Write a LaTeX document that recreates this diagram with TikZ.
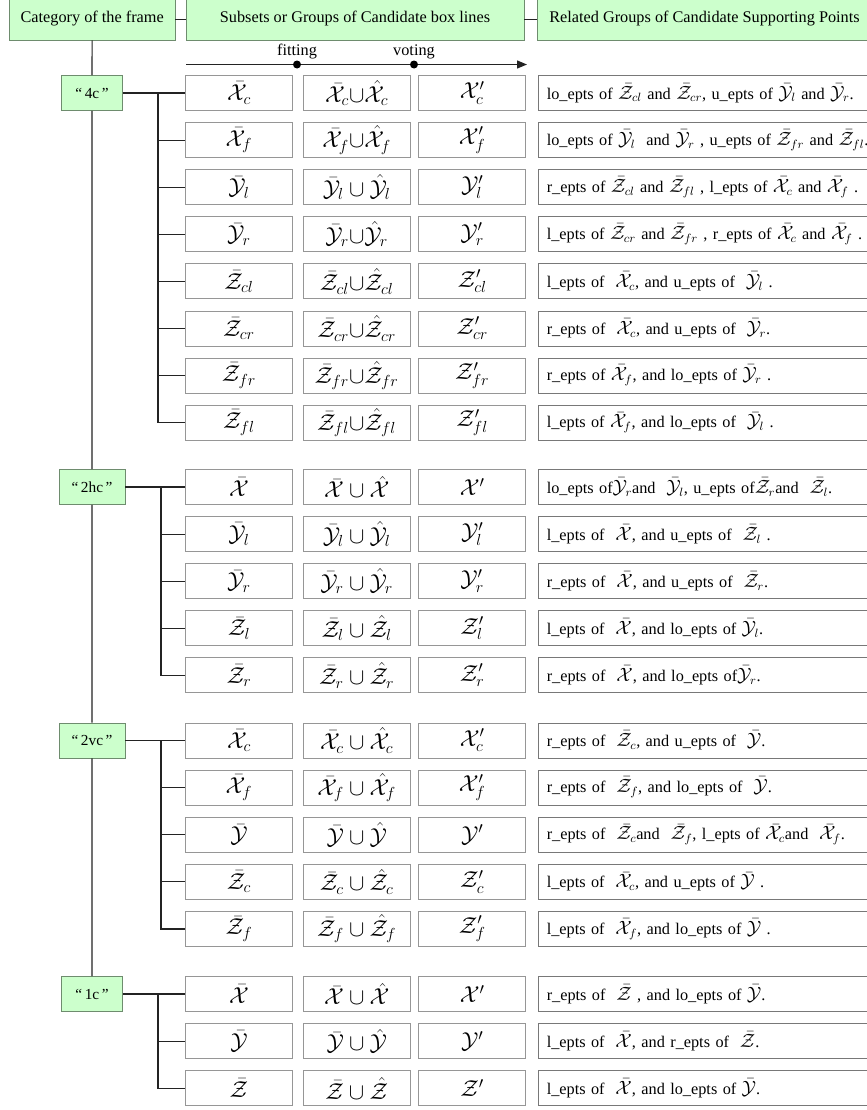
\documentclass[tikz,border=0pt]{standalone}
\usepackage{fontspec}
\setmainfont{Liberation Serif}
\usetikzlibrary{arrows.meta,positioning}
\definecolor{hdrfill}{RGB}{204,255,204}
\definecolor{hdrline}{RGB}{110,140,110}
\definecolor{cellline}{RGB}{150,150,150}
\definecolor{relline}{RGB}{120,120,120}
\definecolor{treeline}{RGB}{35,35,35}
\DeclareMathSizes{12.2}{13.5}{9.5}{7}
\newcommand{\bX}{\bar{\mathcal{X}}}
\newcommand{\hX}{\hat{\mathcal{X}}}
\newcommand{\cX}{\mathcal{X}}
\newcommand{\bY}{\bar{\mathcal{Y}}}
\newcommand{\hY}{\hat{\mathcal{Y}}}
\newcommand{\cY}{\mathcal{Y}}
\newcommand{\bZ}{\bar{\mathcal{Z}}}
\newcommand{\hZ}{\hat{\mathcal{Z}}}
\newcommand{\cZ}{\mathcal{Z}}
\begin{document}
\begin{tikzpicture}[x=0.75pt,y=-0.75pt,
  hdr/.style={draw=hdrline, fill=hdrfill, line width=0.6pt, minimum height=31.5pt, inner sep=0pt, font=\fontsize{12.2}{14}\selectfont},
  grp/.style={draw=hdrline, fill=hdrfill, line width=0.6pt, minimum height=26.25pt, inner sep=0pt, font=\fontsize{11.5}{13}\selectfont},
  cell/.style={draw=cellline, line width=0.7pt, minimum width=79.9pt, minimum height=26.25pt, inner sep=0pt, font=\fontsize{17.5}{18}\selectfont},
  rel/.style={draw=relline, line width=0.7pt, anchor=west, minimum height=26.25pt, text width=245pt, inner xsep=6pt, inner ysep=0pt, align=left, font=\fontsize{12.2}{14}\selectfont},
  tree/.style={draw=treeline, line width=0.9pt},
  dot/.style={circle, fill=black, inner sep=0pt, minimum size=6pt},
  lbl/.style={inner sep=1pt, font=\fontsize{12.2}{14}\selectfont}]
\useasboundingbox (0,0) rectangle (867,1110);
\clip (0,0) rectangle (867,1110);
% headers
\node[hdr, minimum width=124.3pt] (cat) at (92.2,19) {Category of the frame};
\node[hdr, minimum width=253.5pt] (sub) at (355,19) {Subsets or Groups of Candidate box lines};
\node[hdr, minimum width=251pt] (rel) at (704.5,19) {Related Groups of Candidate Supporting Points};
\draw[tree, line width=0.6pt] (cat) -- (sub);
\draw[tree, line width=0.6pt] (sub) -- (rel);
% fitting / voting
\coordinate (arS) at (186,64.5);
\coordinate (arE) at (527,64.5);
\draw[tree, -{Triangle[length=7.5pt,width=6pt]}] (arS) -- (arE);
\node[dot] (fit) at (297,64.5) {};
\node[dot] (vot) at (414,64.5) {};
\node[lbl, above=0pt of fit] (fitlbl) {fitting};
\node[lbl, above=0pt of vot] (votlbl) {voting};
% "4c"
\begin{scope}[shift={(0,93)}]
\node[grp, minimum width=45.75pt] (c4) at (92,0) {“\,4c\,”};
\coordinate (c4j) at (158,0);
\node[cell] (c4a1) at (239,0) {$\bX_c$};
\node[cell] (c4b1) at (356.7,0) {$\bX_c{\cup}\hX_c$};
\node[cell] (c4c1) at (472.2,0) {$\cX'_c$};
\node[rel] (c4d1) at (538.3,0) {lo\_epts of $\bZ_{cl}$ and $\bZ_{cr}$, u\_epts of $\bY_l$ and $\bY_r$.};
\node[cell] (c4a2) at (239,47.1) {$\bX_f$};
\node[cell] (c4b2) at (356.7,47.1) {$\bX_f{\cup}\hX_f$};
\node[cell] (c4c2) at (472.2,47.1) {$\cX'_f$};
\node[rel] (c4d2) at (538.3,47.1) {lo\_epts of $\bY_l$ \ and $\bY_r$ , u\_epts of $\bZ_{fr}$ and $\bZ_{fl}$.};
\node[cell] (c4a3) at (239,94.2) {$\bY_l$};
\node[cell] (c4b3) at (356.7,94.2) {$\bY_l\cup\hY_l$};
\node[cell] (c4c3) at (472.2,94.2) {$\cY'_l$};
\node[rel] (c4d3) at (538.3,94.2) {r\_epts of $\bZ_{cl}$ and $\bZ_{fl}$ , l\_epts of $\bX_c$ and $\bX_f$ .};
\node[cell] (c4a4) at (239,141.3) {$\bY_r$};
\node[cell] (c4b4) at (356.7,141.3) {$\bY_r{\cup}\hY_r$};
\node[cell] (c4c4) at (472.2,141.3) {$\cY'_r$};
\node[rel] (c4d4) at (538.3,141.3) {l\_epts of $\bZ_{cr}$ and $\bZ_{fr}$ , r\_epts of $\bX_c$ and $\bX_f$ .};
\node[cell] (c4a5) at (239,188.4) {$\bZ_{cl}$};
\node[cell] (c4b5) at (356.7,188.4) {$\bZ_{cl}{\cup}\hZ_{cl}$};
\node[cell] (c4c5) at (472.2,188.4) {$\cZ'_{cl}$};
\node[rel] (c4d5) at (538.3,188.4) {l\_epts of \ $\bX_c$, and u\_epts of \ $\bY_l$ .};
\node[cell] (c4a6) at (239,235.5) {$\bZ_{cr}$};
\node[cell] (c4b6) at (356.7,235.5) {$\bZ_{cr}{\cup}\hZ_{cr}$};
\node[cell] (c4c6) at (472.2,235.5) {$\cZ'_{cr}$};
\node[rel] (c4d6) at (538.3,235.5) {r\_epts of \ $\bX_c$, and u\_epts of \ $\bY_r$.};
\node[cell] (c4a7) at (239,282.6) {$\bZ_{fr}$};
\node[cell] (c4b7) at (356.7,282.6) {$\bZ_{fr}{\cup}\hZ_{fr}$};
\node[cell] (c4c7) at (472.2,282.6) {$\cZ'_{fr}$};
\node[rel] (c4d7) at (538.3,282.6) {r\_epts of $\bX_f$, and lo\_epts of $\bY_r$ .};
\node[cell] (c4a8) at (239,329.7) {$\bZ_{fl}$};
\node[cell] (c4b8) at (356.7,329.7) {$\bZ_{fl}{\cup}\hZ_{fl}$};
\node[cell] (c4c8) at (472.2,329.7) {$\cZ'_{fl}$};
\node[rel] (c4d8) at (538.3,329.7) {l\_epts of $\bX_f$, and lo\_epts of \ $\bY_l$ .};
\end{scope}
% "2hc"
\begin{scope}[shift={(0,487)}]
\node[grp, minimum width=49.5pt] (h2) at (92,0) {“\,2hc\,”};
\coordinate (h2j) at (161,0);
\node[cell] (h2a1) at (239,0) {$\bX$};
\node[cell] (h2b1) at (356.7,0) {$\bX\cup\hX$};
\node[cell] (h2c1) at (472.2,0) {$\cX'$};
\node[rel] (h2d1) at (538.3,0) {lo\_epts of$\bY_r$and \ $\bY_l$, u\_epts of$\bZ_r$and \ $\bZ_l$.};
\node[cell] (h2a2) at (239,47.1) {$\bY_l$};
\node[cell] (h2b2) at (356.7,47.1) {$\bY_l\cup\hY_l$};
\node[cell] (h2c2) at (472.2,47.1) {$\cY'_l$};
\node[rel] (h2d2) at (538.3,47.1) {l\_epts of \ $\bX$, and u\_epts of \ $\bZ_l$ .};
\node[cell] (h2a3) at (239,94.2) {$\bY_r$};
\node[cell] (h2b3) at (356.7,94.2) {$\bY_r\cup\hY_r$};
\node[cell] (h2c3) at (472.2,94.2) {$\cY'_r$};
\node[rel] (h2d3) at (538.3,94.2) {r\_epts of \ $\bX$, and u\_epts of \ $\bZ_r$.};
\node[cell] (h2a4) at (239,141.3) {$\bZ_l$};
\node[cell] (h2b4) at (356.7,141.3) {$\bZ_l\cup\hZ_l$};
\node[cell] (h2c4) at (472.2,141.3) {$\cZ'_l$};
\node[rel] (h2d4) at (538.3,141.3) {l\_epts of \ $\bX$, and lo\_epts of $\bY_l$.};
\node[cell] (h2a5) at (239,188.4) {$\bZ_r$};
\node[cell] (h2b5) at (356.7,188.4) {$\bZ_r\cup\hZ_r$};
\node[cell] (h2c5) at (472.2,188.4) {$\cZ'_r$};
\node[rel] (h2d5) at (538.3,188.4) {r\_epts of \ $\bX$, and lo\_epts of$\bY_r$.};
\end{scope}
% "2vc"
\begin{scope}[shift={(0,740.5)}]
\node[grp, minimum width=49.5pt] (v2) at (92,0) {“\,2vc\,”};
\coordinate (v2j) at (161,0);
\node[cell] (v2a1) at (239,0) {$\bX_c$};
\node[cell] (v2b1) at (356.7,0) {$\bX_c\cup\hX_c$};
\node[cell] (v2c1) at (472.2,0) {$\cX'_c$};
\node[rel] (v2d1) at (538.3,0) {r\_epts of \ $\bZ_c$, and u\_epts of \ $\bY$.};
\node[cell] (v2a2) at (239,47.1) {$\bX_f$};
\node[cell] (v2b2) at (356.7,47.1) {$\bX_f\cup\hX_f$};
\node[cell] (v2c2) at (472.2,47.1) {$\cX'_f$};
\node[rel] (v2d2) at (538.3,47.1) {r\_epts of \ $\bZ_f$, and lo\_epts of \ $\bY$.};
\node[cell] (v2a3) at (239,94.2) {$\bY$};
\node[cell] (v2b3) at (356.7,94.2) {$\bY\cup\hY$};
\node[cell] (v2c3) at (472.2,94.2) {$\cY'$};
\node[rel] (v2d3) at (538.3,94.2) {r\_epts of \ $\bZ_c$and \ $\bZ_f$, l\_epts of $\bX_c$and \ $\bX_f$.};
\node[cell] (v2a4) at (239,141.3) {$\bZ_c$};
\node[cell] (v2b4) at (356.7,141.3) {$\bZ_c\cup\hZ_c$};
\node[cell] (v2c4) at (472.2,141.3) {$\cZ'_c$};
\node[rel] (v2d4) at (538.3,141.3) {l\_epts of \ $\bX_c$, and u\_epts of $\bY$ .};
\node[cell] (v2a5) at (239,188.4) {$\bZ_f$};
\node[cell] (v2b5) at (356.7,188.4) {$\bZ_f\cup\hZ_f$};
\node[cell] (v2c5) at (472.2,188.4) {$\cZ'_f$};
\node[rel] (v2d5) at (538.3,188.4) {l\_epts of \ $\bX_f$, and lo\_epts of $\bY$ .};
\end{scope}
% "1c"
\begin{scope}[shift={(0,994)}]
\node[grp, minimum width=45.75pt] (c1) at (92,0) {“\,1c\,”};
\coordinate (c1j) at (158,0);
\node[cell] (c1a1) at (239,0) {$\bX$};
\node[cell] (c1b1) at (356.7,0) {$\bX\cup\hX$};
\node[cell] (c1c1) at (472.2,0) {$\cX'$};
\node[rel] (c1d1) at (538.3,0) {r\_epts of \ $\bZ$ , and lo\_epts of $\bY$.};
\node[cell] (c1a2) at (239,47.1) {$\bY$};
\node[cell] (c1b2) at (356.7,47.1) {$\bY\cup\hY$};
\node[cell] (c1c2) at (472.2,47.1) {$\cY'$};
\node[rel] (c1d2) at (538.3,47.1) {l\_epts of \ $\bX$, and r\_epts of \ $\bZ$.};
\node[cell] (c1a3) at (239,94.2) {$\bZ$};
\node[cell] (c1b3) at (356.7,94.2) {$\bZ\cup\hZ$};
\node[cell] (c1c3) at (472.2,94.2) {$\cZ'$};
\node[rel] (c1d3) at (538.3,94.2) {l\_epts of \ $\bX$, and lo\_epts of $\bY$.};
\end{scope}
% tree
\draw[tree] (cat) -- (c4) -- (h2) -- (v2) -- (c1);
\draw[tree] (c4) -- (c4a1);
\draw[tree] (c4j) |- (c4a8.west);
\draw[tree] (c4j |- c4a2) -- (c4a2.west) (c4j |- c4a3) -- (c4a3.west)
  (c4j |- c4a4) -- (c4a4.west) (c4j |- c4a5) -- (c4a5.west)
  (c4j |- c4a6) -- (c4a6.west) (c4j |- c4a7) -- (c4a7.west);
\draw[tree] (h2) -- (h2a1);
\draw[tree] (h2j) |- (h2a5.west);
\draw[tree] (h2j |- h2a2) -- (h2a2.west) (h2j |- h2a3) -- (h2a3.west)
  (h2j |- h2a4) -- (h2a4.west);
\draw[tree] (v2) -- (v2a1);
\draw[tree] (v2j) |- (v2a5.west);
\draw[tree] (v2j |- v2a2) -- (v2a2.west) (v2j |- v2a3) -- (v2a3.west)
  (v2j |- v2a4) -- (v2a4.west);
\draw[tree] (c1) -- (c1a1);
\draw[tree] (c1j) |- (c1a3.west);
\draw[tree] (c1j |- c1a2) -- (c1a2.west);
\end{tikzpicture}
\end{document}
